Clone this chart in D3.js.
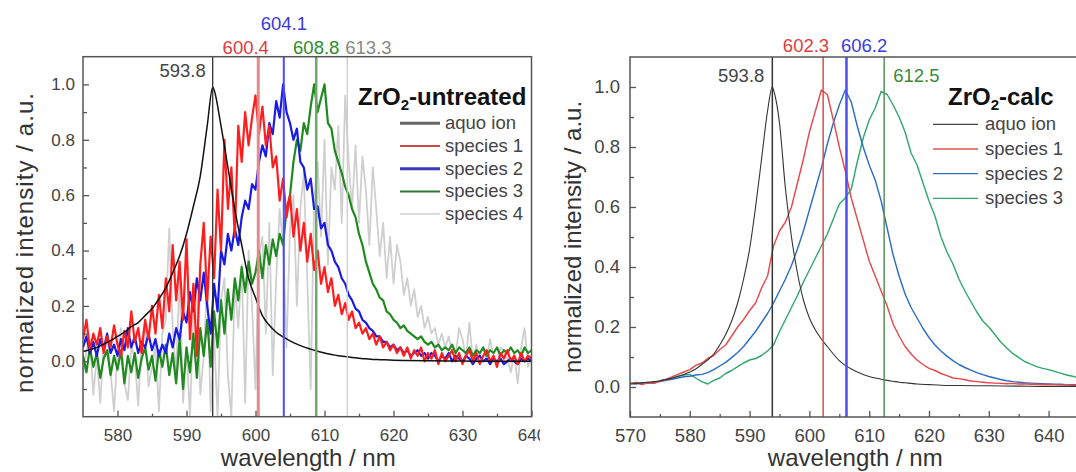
<!DOCTYPE html>
<html>
<head>
<meta charset="utf-8">
<script src="https://cdn.jsdelivr.net/npm/d3@7"></script>
<style>
  body { margin: 0; background: #fff; }
  svg { display: block; }
  text { font-family: "Liberation Sans", Arial, Helvetica, sans-serif; }
</style>
</head>
<body>
<svg id="chart" width="1076" height="472"></svg>
<script>
// ---------------- DATA ----------------
// Left panel: ZrO2-untreated (sampled every 0.5 nm, 575–640 nm)
const untreatedWl = d3.range(575, 640.001, 0.5);

const untreatedAquoWl = [575,576,577,578,579,580,581,582,583,584,585,586,587,588,589,590,591,592,593,593.8,
  594,595,596,597,598,599,600,601,602,603,604,605,606,607,608,609,610,611,612,613,614,615,616,617,618,620,622,625,630,635,640];
const untreatedAquo = [0.035,0.042,0.05,0.062,0.075,0.09,0.105,0.125,0.14,0.165,0.19,0.225,0.265,0.32,0.38,0.46,0.56,0.67,0.85,0.99,
  0.98,0.85,0.7,0.55,0.42,0.3,0.23,0.165,0.13,0.105,0.088,0.074,0.062,0.052,0.044,0.036,0.03,0.025,0.02,0.017,
  0.014,0.011,0.009,0.007,0.006,0.004,0.003,0.002,0.001,0.0,0.0];

const untreatedSpecies1 = [
  0.08,0.15,0.04,0.10,0.06,0.12,0.03,0.09,0.05,0.13,
  0.06,0.02,0.11,0.05,0.18,0.07,0.12,0.03,0.15,0.08,
  0.20,0.10,0.24,0.12,0.30,0.18,0.42,0.22,0.36,0.15,
  0.44,0.08,0.28,0.02,0.35,0.50,0.22,0.45,0.30,0.62,
  0.40,0.80,0.55,0.70,0.45,0.85,0.72,0.90,0.78,0.88,
  0.96,0.82,0.92,0.78,0.85,0.70,0.74,0.58,0.66,0.52,
  0.60,0.45,0.55,0.40,0.50,0.36,0.46,0.33,0.40,0.28,
  0.34,0.25,0.30,0.20,0.24,0.17,0.21,0.15,0.18,0.12,
  0.14,0.10,0.12,0.08,0.10,0.06,0.09,0.05,0.07,0.04,
  0.06,0.03,0.05,0.02,0.05,0.01,0.04,0.02,0.05,0.00,
  0.03,0.01,0.04,-0.01,0.03,0.00,0.02,0.04,0.00,0.03,
  -0.01,0.02,0.04,0.00,0.03,-0.01,0.02,0.04,0.00,0.02,
  -0.02,0.03,0.01,0.04,0.00,0.02,-0.01,0.03,0.00,0.02,
  0.01];

const untreatedSpecies2 = [
  0.05,0.09,0.03,0.07,0.02,0.08,0.04,0.10,0.03,0.06,
  0.02,0.08,0.04,0.12,0.05,0.09,0.03,0.07,0.05,0.10,
  0.04,0.08,0.02,0.06,0.03,0.10,0.05,0.12,0.08,0.18,
  0.14,0.25,0.18,0.30,0.22,0.32,0.20,0.10,0.28,0.18,
  0.40,0.35,0.46,0.40,0.48,0.42,0.52,0.58,0.55,0.64,
  0.62,0.72,0.78,0.74,0.86,0.82,0.94,0.88,1.00,0.90,
  0.86,0.80,0.84,0.72,0.70,0.62,0.66,0.55,0.56,0.48,
  0.50,0.42,0.40,0.36,0.34,0.30,0.28,0.24,0.22,0.19,
  0.18,0.15,0.14,0.12,0.11,0.09,0.09,0.07,0.07,0.05,
  0.06,0.04,0.05,0.03,0.04,0.02,0.03,0.04,0.02,0.03,
  0.01,0.03,0.02,0.00,0.02,0.01,0.03,0.00,0.02,0.01,
  0.00,0.02,0.01,-0.01,0.01,0.02,0.00,0.01,-0.01,0.01,
  0.00,0.01,-0.01,0.00,0.01,0.00,-0.01,0.01,0.00,0.01,
  0.00];

const untreatedSpecies3 = [
  0.02,-0.04,0.05,-0.02,0.03,-0.06,0.01,0.04,-0.05,0.02,
  -0.03,0.04,-0.08,0.02,-0.04,0.03,-0.06,0.01,0.05,-0.03,
  0.02,-0.07,0.04,-0.02,0.06,-0.05,0.03,-0.08,0.08,-0.10,
  0.05,-0.04,0.10,-0.06,0.12,0.02,0.15,-0.02,0.18,0.05,
  0.22,0.10,0.26,0.15,0.30,0.22,0.34,0.25,0.36,0.28,
  0.32,0.40,0.30,0.42,0.35,0.44,0.38,0.46,0.42,0.55,
  0.60,0.72,0.80,0.76,0.86,0.82,0.92,1.00,0.90,0.95,
  1.00,0.86,0.84,0.76,0.72,0.68,0.63,0.60,0.55,0.52,
  0.46,0.42,0.36,0.32,0.28,0.26,0.23,0.22,0.18,0.17,
  0.15,0.14,0.12,0.13,0.11,0.10,0.09,0.08,0.09,0.07,
  0.06,0.07,0.05,0.06,0.04,0.05,0.04,0.06,0.03,0.05,
  0.04,0.03,0.05,0.02,0.04,0.03,0.05,0.02,0.04,0.03,
  0.05,0.02,0.04,0.03,0.05,0.03,0.04,0.02,0.05,0.03,
  0.04];

const untreatedSpecies4 = [
  -0.05,0.04,0.08,-0.12,0.02,-0.15,0.06,0.10,-0.04,-0.18,
  0.03,0.12,-0.08,-0.14,0.05,0.02,-0.16,0.08,0.14,-0.09,
  -0.02,0.06,-0.18,0.10,0.15,0.48,0.12,-0.05,0.32,-0.15,
  0.05,-0.20,0.18,0.25,-0.12,0.02,0.30,-0.18,0.10,-0.20,
  0.22,0.30,-0.05,-0.20,0.28,0.12,0.35,-0.15,0.40,0.20,
  -0.10,0.38,0.45,0.10,0.50,-0.05,0.30,0.55,0.42,0.05,
  0.48,0.60,0.20,0.55,0.68,0.30,-0.10,0.58,0.72,0.45,
  0.80,0.35,0.70,0.62,0.85,0.50,0.96,0.72,0.55,0.78,
  0.50,0.74,0.62,0.42,0.70,0.55,0.38,0.50,0.30,0.45,
  0.28,0.42,0.36,0.24,0.30,0.20,0.26,0.16,0.20,0.12,
  0.16,0.10,0.12,0.06,0.10,0.05,0.09,0.03,0.02,0.12,
  0.08,0.01,0.14,0.00,0.06,0.02,0.05,0.00,0.08,0.02,
  -0.02,0.05,0.04,0.01,-0.04,0.03,-0.08,0.05,0.12,-0.02,
  0.02];

const untreatedPeaks = [593.8, 600.4, 604.1, 608.8, 613.3];
const untreatedPeakLabels = ["593.8", "600.4", "604.1", "608.8", "613.3"];
const untreatedNames = ["aquo ion", "species 1", "species 2", "species 3", "species 4"];
const untreatedXTicks = [580, 590, 600, 610, 620, 630, 640];
const untreatedXMinor = [585, 595, 605, 615, 625, 635];
const untreatedYTicks = [0.0, 0.2, 0.4, 0.6, 0.8, 1.0];
const untreatedYMinor = [-0.1, 0.1, 0.3, 0.5, 0.7, 0.9];

// Right panel: ZrO2-calc (sampled every 1 nm, 570–645 nm)
const calcWl = d3.range(570, 645.001, 1);

const calcAquoWl = [570,571,572,573,574,575,576,577,578,579,580,581,582,583,584,585,586,587,588,589,590,591,592,593,593.8,
  594,595,596,597,598,599,600,601,602,603,604,605,606,607,608,609,610,611,612,613,614,615,616,617,618,620,622,625,630,635,640,645];
const calcAquo = [0.01,0.012,0.014,0.016,0.018,0.021,0.025,0.029,0.035,0.042,0.05,0.06,0.075,0.09,0.11,0.14,0.175,0.22,0.28,0.36,0.46,0.6,0.76,0.92,1.0,
  0.99,0.88,0.66,0.5,0.38,0.29,0.23,0.19,0.16,0.135,0.11,0.088,0.072,0.06,0.05,0.042,0.035,0.03,0.026,0.022,0.019,0.016,0.014,0.012,0.01,
  0.008,0.006,0.005,0.004,0.003,0.002,0.002];

const calcSpecies1 = [
  0.010,0.015,0.008,0.014,0.012,0.020,0.025,0.034,0.042,0.050,
  0.058,0.072,0.080,0.095,0.105,0.125,0.140,0.170,0.200,0.225,
  0.255,0.280,0.330,0.370,0.470,0.520,0.550,0.600,0.680,0.760,
  0.850,0.920,0.990,0.975,0.890,0.800,0.720,0.630,0.560,0.490,
  0.420,0.370,0.320,0.270,0.210,0.170,0.135,0.110,0.090,0.075,
  0.062,0.055,0.045,0.038,0.030,0.028,0.024,0.020,0.018,0.016,
  0.014,0.013,0.012,0.011,0.012,0.010,0.011,0.009,0.010,0.008,
  0.009,0.008,0.007,0.008,0.006,0.007];

const calcSpecies2 = [
  0.012,0.010,0.014,0.012,0.016,0.018,0.022,0.026,0.030,0.034,
  0.036,0.040,0.042,0.048,0.058,0.070,0.082,0.098,0.115,0.135,
  0.160,0.185,0.215,0.245,0.280,0.320,0.360,0.405,0.460,0.520,
  0.590,0.660,0.730,0.810,0.880,0.940,0.990,0.950,0.870,0.800,
  0.740,0.690,0.620,0.530,0.440,0.370,0.310,0.265,0.230,0.195,
  0.165,0.140,0.120,0.103,0.088,0.075,0.065,0.056,0.048,0.041,
  0.035,0.030,0.025,0.021,0.018,0.016,0.014,0.013,0.012,0.011,
  0.010,0.009,0.009,0.008,0.008,0.007];

const calcSpecies3 = [
  0.012,0.015,0.010,0.016,0.012,0.020,0.025,0.030,0.036,0.040,
  0.042,0.030,0.018,0.010,0.022,0.030,0.045,0.055,0.068,0.080,
  0.090,0.095,0.105,0.120,0.140,0.185,0.225,0.265,0.305,0.350,
  0.390,0.430,0.470,0.510,0.560,0.610,0.630,0.660,0.750,0.830,
  0.890,0.930,0.985,0.975,0.940,0.900,0.850,0.780,0.740,0.680,
  0.620,0.570,0.500,0.450,0.410,0.360,0.320,0.285,0.250,0.220,
  0.200,0.175,0.150,0.130,0.112,0.098,0.085,0.076,0.068,0.062,
  0.058,0.052,0.046,0.040,0.036,0.030];

const calcPeaks = [593.8, 602.3, 606.2, 612.5];
const calcPeakLabels = ["593.8", "602.3", "606.2", "612.5"];
const calcNames = ["aquo ion", "species 1", "species 2", "species 3"];
const calcXTicks = [570, 580, 590, 600, 610, 620, 630, 640];
const calcXMinor = [575, 585, 595, 605, 615, 625, 635, 645];
const calcYTicks = [0.0, 0.2, 0.4, 0.6, 0.8, 1.0];
const calcYMinor = [0.1, 0.3, 0.5, 0.7, 0.9];

// ---------------- DRAWING ----------------
const svg = d3.select("#chart");
const defs = svg.append("defs");

function drawPanel(cfg) {
  const g = svg.append("g");
  if (cfg.panelClip) {
    defs.append("clipPath").attr("id", cfg.id + "-panel")
      .append("rect").attr("x", cfg.panelClip[0]).attr("y", 0)
      .attr("width", cfg.panelClip[1] - cfg.panelClip[0]).attr("height", 472);
    g.attr("clip-path", `url(#${cfg.id}-panel)`);
  }
  const x = d3.scaleLinear().domain(cfg.xDomain).range(cfg.xRange);
  const y = d3.scaleLinear().domain(cfg.yDomain).range(cfg.yRange);
  const [xl, xr] = cfg.xRange;
  const [yb, yt] = cfg.yRange;

  defs.append("clipPath").attr("id", cfg.id + "-plot")
    .append("rect").attr("x", xl).attr("y", yt).attr("width", xr - xl).attr("height", yb - yt);
  const plot = g.append("g").attr("clip-path", `url(#${cfg.id}-plot)`);

  const line = d3.line().x(d => x(d[0])).y(d => y(d[1]));

  cfg.series.forEach(s => {
    plot.append("path")
      .datum(d3.zip(s.wl, s.val))
      .attr("d", line.curve(s.smooth ? d3.curveMonotoneX : d3.curveLinear))
      .attr("fill", "none")
      .attr("stroke", s.color)
      .attr("stroke-width", s.width)
      .attr("stroke-linejoin", "round");
  });

  // peak marker lines
  cfg.peaks.forEach((p, i) => {
    plot.append("line")
      .attr("x1", x(p)).attr("x2", x(p))
      .attr("y1", yt).attr("y2", yb)
      .attr("stroke", cfg.peakStyle[i].line)
      .attr("stroke-width", cfg.peakStyle[i].width);
  });

  // peak labels
  cfg.peaks.forEach((p, i) => {
    const st = cfg.peakStyle[i];
    g.append("text")
      .attr("x", x(p) + st.dx)
      .attr("y", st.y)
      .attr("text-anchor", st.anchor)
      .attr("font-size", cfg.labelSize)
      .attr("fill", st.text)
      .text(cfg.peakLabels[i]);
  });

  // axes
  const tickColor = "#555";
  const xAxis = d3.axisBottom(x).tickValues(cfg.xTicks).tickSize(-6)
    .tickPadding(cfg.xPad).tickFormat(d3.format("d"));
  const gx = g.append("g").attr("transform", `translate(0,${yb})`).call(xAxis);
  const xMinor = d3.axisBottom(x).tickValues(cfg.xMinor).tickSize(-3).tickFormat("");
  const gxm = g.append("g").attr("transform", `translate(0,${yb})`).call(xMinor);

  const yAxis = d3.axisLeft(y).tickValues(cfg.yTicks).tickSize(-6)
    .tickPadding(cfg.yPad).tickFormat(d3.format(".1f"));
  const gy = g.append("g").attr("transform", `translate(${xl},0)`).call(yAxis);
  const yMinor = d3.axisLeft(y).tickValues(cfg.yMinor).tickSize(-4).tickFormat("");
  const gym = g.append("g").attr("transform", `translate(${xl},0)`).call(yMinor);

  [gx, gxm, gy, gym].forEach(a => {
    a.select(".domain").remove();
    a.selectAll(".tick line").attr("stroke", tickColor).attr("stroke-width", 1.3);
    a.selectAll(".tick text").attr("font-size", cfg.tickSize).attr("fill", "#444")
      .attr("font-family", "Liberation Sans, Arial, sans-serif");
  });

  // frame
  g.append("rect").attr("x", xl).attr("y", yt).attr("width", xr - xl).attr("height", yb - yt)
    .attr("fill", "none").attr("stroke", "#555").attr("stroke-width", 1.5);

  // axis titles
  g.append("text")
    .attr("x", (xl + xr) / 2 + cfg.xTitleDx).attr("y", 466)
    .attr("text-anchor", "middle").attr("font-size", 24).attr("fill", "#333")
    .text("wavelength / nm");
  const yt2 = g.append("text")
    .attr("transform", `translate(${cfg.yTitleX},${cfg.yTitleY}) rotate(-90)`)
    .attr("text-anchor", "middle").attr("font-size", 24).attr("fill", "#333")
    .text("normalized intensity / a.u.");
  if (cfg.yTitleLen) yt2.attr("textLength", cfg.yTitleLen).attr("lengthAdjust", "spacing");

  // legend
  const lg = g.append("g");
  const title = lg.append("text").attr("x", cfg.legend.titleX).attr("y", cfg.legend.titleY)
    .attr("font-size", 24).attr("font-weight", "bold").attr("fill", "#111");
  title.append("tspan").text("ZrO");
  title.append("tspan").attr("font-size", 15).attr("dy", 5).text("2");
  title.append("tspan").attr("dy", -5).text(cfg.legend.titleRest);

  cfg.names.forEach((n, i) => {
    const cy = cfg.legend.y0 + i * cfg.legend.dy;
    lg.append("line")
      .attr("x1", cfg.legend.lineX[0]).attr("x2", cfg.legend.lineX[1])
      .attr("y1", cy).attr("y2", cy)
      .attr("stroke", cfg.legend.colors[i]).attr("stroke-width", cfg.legend.widths[i]);
    lg.append("text").attr("x", cfg.legend.textX).attr("y", cy + 6)
      .attr("font-size", 18.5).attr("fill", "#444").text(n);
  });
}

// Left panel
drawPanel({
  id: "untreated",
  panelClip: [0, 540],
  xDomain: [575, 640], xRange: [83, 531.5],
  yDomain: [-0.2, 1.1], yRange: [416.7, 56.7],
  xTicks: untreatedXTicks, xMinor: untreatedXMinor,
  yTicks: untreatedYTicks, yMinor: untreatedYMinor,
  tickSize: 17, xPad: 12.5, yPad: 8,
  labelSize: 18.5,
  series: [
    { wl: untreatedWl, val: untreatedSpecies4, color: "#cfcfcf", width: 1.8 },
    { wl: untreatedWl, val: untreatedSpecies3, color: "#1f8a1f", width: 2.2 },
    { wl: untreatedWl, val: untreatedSpecies2, color: "#1a1ae6", width: 2.2 },
    { wl: untreatedWl, val: untreatedSpecies1, color: "#ff1e1e", width: 2.2 },
    { wl: untreatedAquoWl, val: untreatedAquo, color: "#111", width: 1.5, smooth: true }
  ],
  peaks: untreatedPeaks, peakLabels: untreatedPeakLabels,
  peakStyle: [
    { line: "#222", width: 1.2, text: "#444", anchor: "end", dx: -7, y: 76.5 },
    { line: "#e58a8a", width: 3, text: "#e03c3c", anchor: "middle", dx: -12.5, y: 53.5 },
    { line: "#4a4aff", width: 2, text: "#3a3ae0", anchor: "middle", dx: 0, y: 30 },
    { line: "#6fa86f", width: 2.5, text: "#2e8b2e", anchor: "middle", dx: 0, y: 53.5 },
    { line: "#c8c8c8", width: 1.2, text: "#888", anchor: "start", dx: -2, y: 53.5 }
  ],
  xTitleDx: 1, yTitleX: 33, yTitleY: 243, yTitleLen: 300,
  names: untreatedNames,
  legend: {
    titleX: 358, titleY: 104.5, titleRest: "-untreated",
    lineX: [400, 440], textX: 445, y0: 123.3, dy: 22.7,
    colors: ["#666", "#c84a4a", "#3a3ac0", "#2e7a2e", "#dcdcdc"],
    widths: [3, 2, 3, 2, 2]
  }
});

// Right panel
drawPanel({
  id: "calc",
  xDomain: [570, 645], xRange: [630, 1078.5],
  yDomain: [-0.1, 1.1], yRange: [417, 57],
  xTicks: calcXTicks, xMinor: calcXMinor,
  yTicks: calcYTicks, yMinor: calcYMinor,
  tickSize: 18.5, xPad: 11.5, yPad: 10,
  labelSize: 18.5,
  series: [
    { wl: calcWl, val: calcSpecies3, color: "#2ea86a", width: 1.4 },
    { wl: calcWl, val: calcSpecies2, color: "#2a6cc4", width: 1.4 },
    { wl: calcWl, val: calcSpecies1, color: "#e8474a", width: 1.4 },
    { wl: calcAquoWl, val: calcAquo, color: "#333", width: 1.1, smooth: true }
  ],
  peaks: calcPeaks, peakLabels: calcPeakLabels,
  peakStyle: [
    { line: "#333", width: 1.5, text: "#444", anchor: "end", dx: -8, y: 82 },
    { line: "#e04a4a", width: 1.5, text: "#e03c3c", anchor: "end", dx: 6, y: 51.5 },
    { line: "#4d4df5", width: 2.5, text: "#3a3ae0", anchor: "start", dx: -5.5, y: 51.5 },
    { line: "#5a8f5a", width: 1.5, text: "#3a8a3a", anchor: "start", dx: 9, y: 81.5 }
  ],
  xTitleDx: 1, yTitleX: 581, yTitleY: 237,
  names: calcNames,
  legend: {
    titleX: 948, titleY: 104.5, titleRest: "-calc",
    lineX: [933, 978], textX: 985, y0: 124.3, dy: 24.7,
    colors: ["#444", "#e05555", "#3070c0", "#3aa070"],
    widths: [1.3, 1.3, 1.3, 1.3]
  }
});
</script>
</body>
</html>
